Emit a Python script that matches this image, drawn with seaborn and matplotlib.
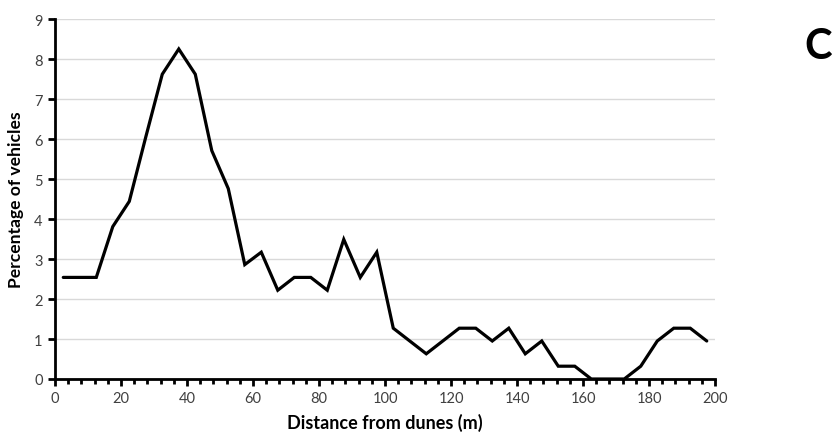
import matplotlib
matplotlib.use("Agg")
import matplotlib.pyplot as plt
from matplotlib.ticker import MultipleLocator
import seaborn as sns
import pandas as pd

# Distance bins (midpoints, m) and share of vehicles in each bin (%)
distance = [2.5 + 5 * i for i in range(40)]
percentage = [2.54, 2.54, 2.54, 3.81, 4.44, 6.05, 7.62, 8.25, 7.62, 5.71,
              4.76, 2.86, 3.17, 2.22, 2.54, 2.54, 2.22, 3.49, 2.54, 3.17,
              1.27, 0.95, 0.63, 0.95, 1.27, 1.27, 0.95, 1.27, 0.63, 0.95,
              0.32, 0.32, 0.0, 0.0, 0.0, 0.32, 0.95, 1.27, 1.27, 0.95]
x_ticks = [0, 20, 40, 60, 80, 100, 120, 140, 160, 180, 200]
y_ticks = list(range(0, 10))

df = pd.DataFrame({"Distance from dunes (m)": distance,
                   "Percentage of vehicles": percentage})

sns.set_theme(style="white")
plt.rcParams["font.family"] = ["Lato", "DejaVu Sans"]

fig = plt.figure(figsize=(8.35, 4.39), dpi=100)
ax = fig.add_axes([0.0659, 0.1344, 0.7904, 0.82])

ax.yaxis.grid(True, color="#d9d9d9", linewidth=1.0)
ax.set_axisbelow(True)

sns.lineplot(data=df, x="Distance from dunes (m)", y="Percentage of vehicles",
             color="black", linewidth=2.3, ax=ax, solid_joinstyle="miter")

ax.set_xlim(0, 200)
ax.set_ylim(0, 9)
ax.set_xticks(x_ticks)
ax.set_yticks(y_ticks)
ax.xaxis.set_minor_locator(MultipleLocator(4))

for side in ("top", "right"):
    ax.spines[side].set_visible(False)
for side in ("left", "bottom"):
    ax.spines[side].set_color("black")
    ax.spines[side].set_linewidth(2.0)

ax.tick_params(axis="both", which="major", direction="out", length=5,
               width=2.0, color="black", labelsize=10.5, labelcolor="#404040",
               pad=4)
ax.tick_params(axis="x", which="minor", direction="out", length=3.5,
               width=2.0, color="black", bottom=True)
ax.tick_params(axis="x", which="major", bottom=True)
ax.tick_params(axis="y", which="major", left=True)

ax.set_xlabel("Distance from dunes (m)", fontsize=13, fontweight="bold",
              color="black", labelpad=5)
ax.set_ylabel("Percentage of vehicles", fontsize=12.6, fontweight="bold",
              color="black", labelpad=7)

fig.text(0.996, 0.892, "C", fontsize=30, fontweight="bold", color="black",
         ha="right", va="center")

fig.savefig("out.png", dpi=100)
